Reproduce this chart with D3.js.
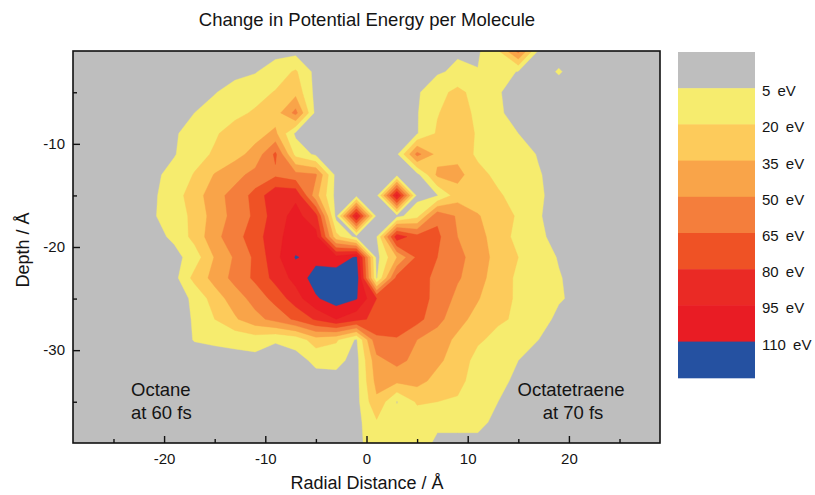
<!DOCTYPE html>
<html><head><meta charset="utf-8">
<script src="https://cdn.jsdelivr.net/npm/d3@7"></script>
<style>
body{margin:0;background:#fff;}
text{font-family:"Liberation Sans",Arial,Helvetica,sans-serif;fill:#141414;}
</style>
</head><body>
<svg id="chart" width="815" height="495"></svg>
<script>
// ---- data ----
const radialDistance = [-29,-27,-25,-23,-21,-19,-17,-15,-13,-11,-9,-7,-5,-3,-1,1,3,5,7,9,11,13,15,17,19,21,23,25,27,29];
const depth = [-1,-3,-5,-7,-9,-11,-13,-15,-17,-19,-21,-23,-25,-27,-29,-31,-33,-35,-37,-39];
// energy change (eV) at each radial distance, one array per depth
const depth01 = [0,0,0,0,0,0,0,0,0,0,0,0,0,0,0,0,0,0,0,3,3,18,55,3,0,0,0,0,0,0];
const depth03 = [0,0,0,0,0,0,0,0,0,4,12,22,0,0,0,0,0,0,3,8,5.5,12,4,0,6,0,0,0,0,0];
const depth05 = [0,0,0,0,0,0,0,4,12,14,21,30,0,0,0,0,0,3,15,24,14,6,0,0,0,0,0,0,0,0];
const depth07 = [0,0,0,0,0,0,5,12,16,22,28,55,0,0,0,0,0,4,19,28,16,7,0,0,0,0,0,0,0,0];
const depth09 = [0,0,0,0,0,3,12,18,27,30,38,2,0,0,0,0,0,4,22,30,18,12,5,0,0,0,0,0,0,0];
const depth11 = [0,0,0,0,0,4,14,22,30,40,68,15,2,0,0,0,2,55,30,30,17,14,11,4,0,0,0,0,0,0];
const depth13 = [0,0,0,0,2,10,21,36,45,55,62,55,52,0,0,0,0,0,38,40,25,16,11,6,0,0,0,0,0,0];
const depth15 = [0,0,0,0,3,14,27,45,55,70,92,92,40,0,0,0,100,0,4,28,28,22,14,7,0,0,0,0,0,0];
const depth17 = [0,0,0,0,4,12,24,42,55,68,88,100,85,0,100,0,0,15,62,48,36,28,18,6,0,0,0,0,0,0];
const depth19 = [0,0,0,0,0,8,25,45,60,72,92,100,100,25,0,4,90,70,68,50,40,28,15,8,0,0,0,0,0,0];
const depth21 = [0,0,0,0,0,0,12,36,52,68,90,111,105,100,112,0,35,68,65,55,42,30,20,12,4,0,0,0,0,0];
const depth23 = [0,0,0,0,0,0,25,40,55,68,85,100,117,120,120,3,70,70,62,52,40,28,17,12,6,0,0,0,0,0];
const depth25 = [0,0,0,0,0,0,7,28,42,56,70,88,108,118,111,80,72,68,63,45,36,25,18,12,7,0,0,0,0,0];
const depth27 = [0,0,0,0,0,0,6,20,33,45,55,68,82,95,85,75,72,70,55,40,30,22,18,14,0,0,0,0,0,0];
const depth29 = [0,0,0,0,0,0,5.5,7,9,12,6,10,28,22,3,62,64,50,42,32,22,16,12,5,0,0,0,0,0,0];
const depth31 = [0,0,0,0,0,0,0,0,0,0,0,0,8,9,0,45,55,45,38,28,15,10,5,0,0,0,0,0,0,0];
const depth33 = [0,0,0,0,0,0,0,0,0,0,0,0,0,0,0,40,38,40,30,25,12,11,0,0,0,0,0,0,0,0];
const depth35 = [0,0,0,0,0,0,0,0,0,0,0,0,0,0,0,32,4,22,20,18,14,5,0,0,0,0,0,0,0,0];
const depth37 = [0,0,0,0,0,0,0,0,0,0,0,0,0,0,0,18,12,10,10,10,10,0,0,0,0,0,0,0,0,0];
const depth39 = [0,0,0,0,0,0,0,0,0,0,0,0,0,0,0,15,12,18,0,0,0,0,0,0,0,0,0,0,0,0];

const levels = [5,20,35,50,65,80,95,110];
const levelLabels = ["5 eV","20 eV","35 eV","50 eV","65 eV","80 eV","95 eV","110 eV"];
const bandColors = ["#bebebe","#f6ec6e","#fdcb5b","#f9a449","#f47e3c","#ef5225","#ea2a25","#e91c24","#2551a1"];
const xTicksMajor = [-20,-10,0,10,20];
const xTicksMinor = [-25,-15,-5,5,15,25];
const yTicksMajor = [-10,-20,-30];
const yTicksMinor = [-5,-15,-25,-35];

// ---- layout ----
const svg = d3.select("#chart");
const L=73, R=660, T=51, B=443;
const x = d3.scaleLinear().domain([-29,29]).range([L,R]);
const y = d3.scaleLinear().domain([-1,-39]).range([T,B]);

const rows = [depth01,depth03,depth05,depth07,depth09,depth11,depth13,depth15,depth17,depth19,
              depth21,depth23,depth25,depth27,depth29,depth31,depth33,depth35,depth37,depth39];
const nx = radialDistance.length, ny = depth.length;
const values = [].concat(...rows);
const contours = d3.contours().size([nx, ny]).thresholds(levels)(values);
const dx = radialDistance[1]-radialDistance[0], dy = depth[1]-depth[0];
const proj = d3.geoTransform({point: function(cx, cy){
  this.stream.point(x(radialDistance[0] + (cx-0.5)*dx), y(depth[0] + (cy-0.5)*dy));
}});
const path = d3.geoPath(proj);

svg.append("defs").append("clipPath").attr("id","clip")
  .append("rect").attr("x",L).attr("y",T).attr("width",R-L).attr("height",B-T);

const plot = svg.append("g").attr("clip-path","url(#clip)");
plot.append("rect").attr("x",L).attr("y",T).attr("width",R-L).attr("height",B-T).attr("fill",bandColors[0]);
plot.selectAll("path.band").data(contours).join("path")
  .attr("class","band")
  .attr("d", path)
  .attr("fill",(d,i)=>bandColors[i+1])
  .attr("stroke",(d,i)=>bandColors[i+1])
  .attr("stroke-width",0.4);

// axes
const fmt = d => String(d);
const gx = svg.append("g").attr("transform",`translate(0,${B})`);
gx.call(d3.axisBottom(x).tickValues(xTicksMajor).tickSize(-7).tickPadding(10).tickFormat(fmt));
const gx2 = svg.append("g").attr("transform",`translate(0,${B})`);
gx2.call(d3.axisBottom(x).tickValues(xTicksMinor).tickSize(-4).tickFormat(""));
const gy = svg.append("g").attr("transform",`translate(${L},0)`);
gy.call(d3.axisLeft(y).tickValues(yTicksMajor).tickSize(-7).tickPadding(8).tickFormat(fmt));
const gy2 = svg.append("g").attr("transform",`translate(${L},0)`);
gy2.call(d3.axisLeft(y).tickValues(yTicksMinor).tickSize(-4).tickFormat(""));
svg.selectAll(".domain").remove();
svg.selectAll(".tick line").attr("stroke","#111").attr("stroke-width",1.4);
svg.selectAll(".tick text").attr("font-size",15).attr("fill","#141414")
  .attr("font-family",'"Liberation Sans",Arial,sans-serif');

svg.append("rect").attr("x",L).attr("y",T).attr("width",R-L).attr("height",B-T)
  .attr("fill","none").attr("stroke","#111").attr("stroke-width",1.6);

// titles
svg.append("text").attr("x",367).attr("y",26).attr("text-anchor","middle")
  .attr("font-size",18.5).text("Change in Potential Energy per Molecule");
svg.append("text").attr("x",367).attr("y",489).attr("text-anchor","middle")
  .attr("font-size",18).text("Radial Distance / Å");
svg.append("text").attr("transform","translate(29,250) rotate(-90)").attr("text-anchor","middle")
  .attr("font-size",18).text("Depth / Å");

// annotations
const ann = svg.append("g").attr("font-size",18.5);
ann.append("text").attr("x",131).attr("y",396).text("Octane");
ann.append("text").attr("x",131).attr("y",419).text("at 60 fs");
ann.append("text").attr("x",571).attr("y",396).attr("text-anchor","middle").text("Octatetraene");
ann.append("text").attr("x",573).attr("y",419).attr("text-anchor","middle").text("at 70 fs");

// legend
const legTop = 52, legH = 36.2, legX = 678, legW = 77;
const leg = svg.append("g");
leg.selectAll("rect").data(bandColors).join("rect")
  .attr("x",legX).attr("y",(d,i)=>legTop+i*legH).attr("width",legW).attr("height",legH+0.5)
  .attr("fill",d=>d);
leg.selectAll("text").data(levelLabels).join("text")
  .attr("x",762).attr("y",(d,i)=>legTop+(i+1)*legH+8)
  .attr("font-size",15).attr("word-spacing",3).text(d=>d);
</script>
</body></html>
